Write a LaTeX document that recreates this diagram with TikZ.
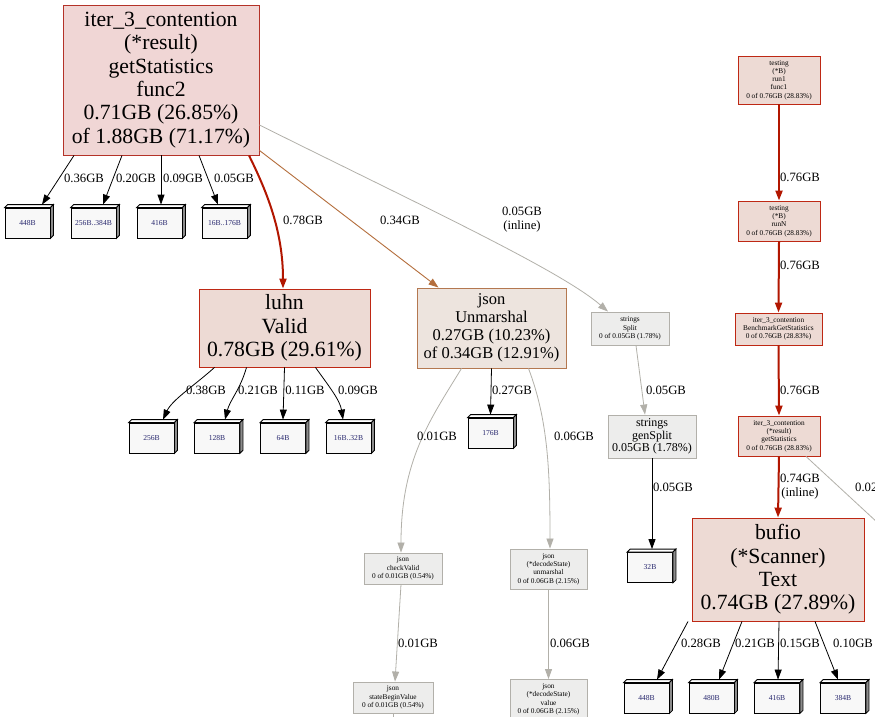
\documentclass[tikz,border=0pt]{standalone}
\usepackage{fontspec}
\setmainfont{Liberation Serif}
\usetikzlibrary{arrows.meta}

\definecolor{hotfill}{RGB}{240,214,213}
\definecolor{hotline}{RGB}{180,50,40}
\definecolor{warmfill}{RGB}{237,218,212}
\definecolor{warmline}{RGB}{190,40,20}
\definecolor{tanfill}{RGB}{237,228,222}
\definecolor{tanline}{RGB}{180,120,80}
\definecolor{greyfill}{RGB}{237,237,236}
\definecolor{greyline}{RGB}{178,176,170}
\definecolor{hotedge}{RGB}{178,22,0}
\definecolor{tanedge}{RGB}{180,110,60}
\definecolor{greyedge}{RGB}{178,176,169}
\definecolor{leaffill}{RGB}{248,248,248}
\definecolor{leaftext}{RGB}{40,40,110}

\newcommand\fsz[2]{\fontsize{#1}{#2}\selectfont}

\tikzset{
  x=1pt, y=-1pt,
  box/.style={rectangle, align=center, inner sep=0pt, line width=0.9pt},
  bigbox/.style={box, draw=hotline, fill=hotfill, font=\fsz{21.7}{23.4}},
  midbox/.style={box, draw=tanline, fill=tanfill, font=\fsz{16.5}{18}},
  tinyhot/.style={box, draw=warmline, fill=warmfill, font=\fsz{7.3}{8.3}},
  tinygrey/.style={box, draw=greyline, fill=greyfill, font=\fsz{7.3}{8.3}},
  leafbox/.style={box, draw=black, fill=leaffill, line width=0.8pt,
    minimum width=45pt, minimum height=30pt, font=\fsz{7.6}{9}, text=leaftext},
  lbl/.style={inner sep=0pt, align=center, font=\fsz{12.7}{14}},
  tip/.style={-{Triangle[length=10pt,width=7pt]}},
  hotarrow/.style={tip, draw=hotedge, line width=2pt},
  tanarrow/.style={tip, draw=tanedge, line width=0.9pt},
  greyarrow/.style={tip, draw=greyedge, line width=0.8pt},
  blackarrow/.style={tip, draw=black, line width=0.8pt},
}

% top and right faces of a leaf box
\newcommand\cubefaces[1]{%
  \filldraw[fill=white, draw=black, line width=0.8pt]
    (#1.north west) -- ++(3,-3) -- ([shift={(3,-3)}]#1.north east) -- (#1.north east) -- cycle;
  \filldraw[fill=black!45, draw=black, line width=0.8pt]
    (#1.north east) -- ([shift={(3,-3)}]#1.north east) -- ([shift={(3,-3)}]#1.south east) -- (#1.south east) -- cycle;
}

\begin{document}
\begin{tikzpicture}
\useasboundingbox (0,0) rectangle (875,717);
\clip (0,0) rectangle (875,717);
\fill[white] (0,0) rectangle (875,717);

% ---------- function nodes ----------
\node[bigbox, minimum width=196pt, minimum height=150pt] (main) at (161,80)
  {iter\_3\_contention\\(*result)\\getStatistics\\func2\\0.71GB (26.85\%)\\of 1.88GB (71.17\%)};
\node[bigbox, fill=warmfill, draw=warmline, minimum width=171pt, minimum height=78pt] (luhn) at (284.5,328)
  {luhn\\Valid\\0.78GB (29.61\%)};
\node[midbox, minimum width=149pt, minimum height=80pt] (jsonU) at (491.5,328)
  {json\\Unmarshal\\0.27GB (10.23\%)\\of 0.34GB (12.91\%)};
\node[tinygrey, minimum width=78pt, minimum height=33pt] (split) at (630,328.5)
  {strings\\Split\\0 of 0.05GB (1.78\%)};
\node[tinygrey, font=\fsz{12}{12.5}, minimum width=88pt, minimum height=43pt] (gensplit) at (652,436.5)
  {strings\\genSplit\\0.05GB (1.78\%)};
\node[tinygrey, minimum width=78pt, minimum height=31pt] (cv) at (403,568.5)
  {json\\checkValid\\0 of 0.01GB (0.54\%)};
\node[tinygrey, minimum width=77pt, minimum height=40pt] (dsu) at (548.5,569)
  {json\\(*decodeState)\\unmarshal\\0 of 0.06GB (2.15\%)};
\node[tinygrey, minimum width=80pt, minimum height=31pt] (sbv) at (393,697.5)
  {json\\stateBeginValue\\0 of 0.01GB (0.54\%)};
\node[tinygrey, minimum width=77pt, minimum height=40pt] (dsv) at (548.5,699.5)
  {json\\(*decodeState)\\value\\0 of 0.06GB (2.15\%)};

\node[tinyhot, minimum width=82pt, minimum height=48pt] (t1) at (779,80)
  {testing\\(*B)\\run1\\func1\\0 of 0.76GB (28.83\%)};
\node[tinyhot, minimum width=82pt, minimum height=40pt] (t2) at (779,221)
  {testing\\(*B)\\runN\\0 of 0.76GB (28.83\%)};
\node[tinyhot, minimum width=87pt, minimum height=32pt] (bench) at (778.5,329)
  {iter\_3\_contention\\BenchmarkGetStatistics\\0 of 0.76GB (28.83\%)};
\node[tinyhot, minimum width=82pt, minimum height=40pt] (gs) at (779,436)
  {iter\_3\_contention\\(*result)\\getStatistics\\0 of 0.76GB (28.83\%)};
\node[bigbox, fill=warmfill, draw=warmline, minimum width=172pt, minimum height=103pt] (bufio) at (778,569.5)
  {bufio\\(*Scanner)\\Text\\0.74GB (27.89\%)};

% ---------- allocation size leaves ----------
\node[leafbox] (a1) at (27.5,223) {448B};
\node[leafbox] (a2) at (93.5,223) {256B..384B};
\node[leafbox] (a3) at (159.5,223) {416B};
\node[leafbox] (a4) at (224.5,223) {16B..176B};
\node[leafbox] (b1) at (151.5,438) {256B};
\node[leafbox] (b2) at (217,438) {128B};
\node[leafbox] (b3) at (283,438) {64B};
\node[leafbox] (b4) at (348.5,438) {16B..32B};
\node[leafbox] (c1) at (490.5,433) {176B};
\node[leafbox] (d1) at (650,567.5) {32B};
\node[leafbox] (e1) at (646.5,698) {448B};
\node[leafbox] (e2) at (711.5,698) {480B};
\node[leafbox] (e3) at (777,698) {416B};
\node[leafbox] (e4) at (843,698) {384B};
\foreach \n in {a1,a2,a3,a4,b1,b2,b3,b4,c1,d1,e1,e2,e3,e4} {\cubefaces{\n}}

% ---------- edges from getStatistics func2 ----------
\draw[blackarrow] ([xshift=-87pt]main.south) -- ([xshift=14.5pt,yshift=3pt]a1.north);
\draw[blackarrow] ([xshift=-39pt]main.south) -- ([xshift=9.5pt,yshift=3pt]a2.north);
\draw[blackarrow] ([xshift=0pt]main.south) -- ([xshift=1.5pt,yshift=3pt]a3.north);
\draw[blackarrow] ([xshift=38pt]main.south) -- ([xshift=-6.5pt,yshift=3pt]a4.north);
\node[lbl] (la1) at (84,178) {0.36GB};
\node[lbl] (la2) at (136,178) {0.20GB};
\node[lbl] (la3) at (183,178) {0.09GB};
\node[lbl] (la4) at (234,178) {0.05GB};

\draw[hotarrow] ([xshift=88pt]main.south) .. controls (266,190) and (283,230) .. ([xshift=-1.5pt]luhn.north);
\node[lbl] (lluhn) at (303,220) {0.78GB};
\draw[tanarrow] ([yshift=5pt]main.south east) -- ([xshift=-53pt]jsonU.north);
\node[lbl] (ljson) at (400,220) {0.34GB};
\draw[greyarrow] ([yshift=-45pt]main.east) .. controls (420,205) and (560,270) .. ([xshift=-22pt]split.north);
\node[lbl] (lsplit) at (522,220) {0.05GB\\(inline)};

% ---------- luhn.Valid ----------
\draw[blackarrow] ([xshift=-70pt]luhn.south) .. controls (195,385) and (172,400) .. ([xshift=11.5pt,yshift=3pt]b1.north);
\draw[blackarrow] ([xshift=-38pt]luhn.south) .. controls (240,390) and (230,400) .. ([xshift=8pt,yshift=3pt]b2.north);
\draw[blackarrow] ([xshift=0pt]luhn.south) -- ([yshift=3pt]b3.north);
\draw[blackarrow] ([xshift=31pt]luhn.south) .. controls (328,385) and (340,400) .. ([xshift=-5.5pt,yshift=3pt]b4.north);
\node[lbl] (lb1) at (206,390) {0.38GB};
\node[lbl] (lb2) at (258,390) {0.21GB};
\node[lbl] (lb3) at (305,390) {0.11GB};
\node[lbl] (lb4) at (358,390) {0.09GB};

% ---------- json.Unmarshal ----------
\draw[blackarrow] (jsonU.south) -- ([yshift=3pt]c1.north);
\node[lbl] (lc1) at (512,390) {0.27GB};
\draw[greyarrow] ([xshift=-30pt]jsonU.south) .. controls (430,420) and (401,460) .. ([xshift=-2pt]cv.north);
\node[lbl] (lcv) at (437,436) {0.01GB};
\draw[greyarrow] ([xshift=37pt]jsonU.south) .. controls (548,420) and (550,470) .. ([xshift=1.5pt]dsu.north);
\node[lbl] (ldsu) at (574,436) {0.06GB};
\draw[greyarrow] ([xshift=-2pt]cv.south) -- ([xshift=2pt]sbv.north);
\node[lbl] (lsbv) at (418,643) {0.01GB};
\draw[greyarrow] (dsu.south) -- (dsv.north);
\node[lbl] (ldsv) at (570,643) {0.06GB};
\coordinate (sbvout) at (393,740);
\draw[greyedge, line width=0.8pt] (sbv.south) -- (sbvout);

% ---------- strings ----------
\draw[greyarrow] ([xshift=6pt]split.south) -- ([xshift=-7pt]gensplit.north);
\node[lbl] (lgen) at (666,390) {0.05GB};
\draw[blackarrow] (gensplit.south) -- ([xshift=2pt,yshift=3pt]d1.north);
\node[lbl] (ld1) at (673,487) {0.05GB};

% ---------- benchmark chain ----------
\draw[hotarrow] (t1.south) -- (t2.north);
\node[lbl] (lt2) at (800,177) {0.76GB};
\draw[hotarrow] (t2.south) -- (bench.north);
\node[lbl] (lbench) at (800,265) {0.76GB};
\draw[hotarrow] (bench.south) -- (gs.north);
\node[lbl] (lgs) at (800,390) {0.76GB};
\draw[hotarrow] (gs.south) -- (bufio.north);
\node[lbl] (lbufio) at (800,487) {0.74GB\\(inline)};
\coordinate (gsout) at (905,548);
\draw[greyedge, line width=0.8pt] ([xshift=27pt]gs.south) -- (gsout);
\node[lbl, anchor=west] (lgsout) at (855,487) {0.02GB};

% ---------- bufio.Text ----------
\draw[blackarrow] ([xshift=-90pt]bufio.south) -- ([xshift=10.5pt,yshift=3pt]e1.north);
\draw[blackarrow] ([xshift=-36pt]bufio.south) -- ([xshift=7.5pt,yshift=3pt]e2.north);
\draw[blackarrow] ([xshift=1pt]bufio.south) -- ([xshift=1pt,yshift=3pt]e3.north);
\draw[blackarrow] ([xshift=37pt]bufio.south) -- ([xshift=-5pt,yshift=3pt]e4.north);
\node[lbl] (le1) at (701,643) {0.28GB};
\node[lbl] (le2) at (755,643) {0.21GB};
\node[lbl] (le3) at (800,643) {0.15GB};
\node[lbl] (le4) at (853,643) {0.10GB};
\end{tikzpicture}
\end{document}
